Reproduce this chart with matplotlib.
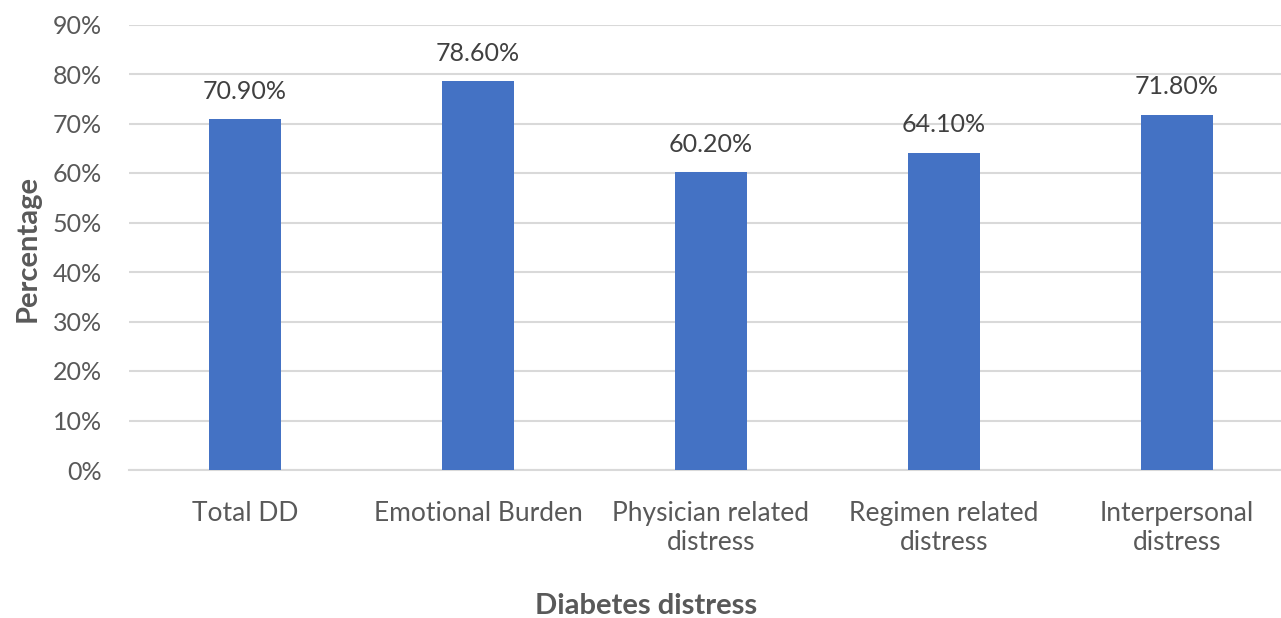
import numpy as np
import matplotlib.pyplot as plt
from matplotlib.ticker import PercentFormatter

# 数据
categories = ['Total DD', 'Emotional Burden', 'Physician related\ndistress',
              'Regimen related\ndistress', 'Interpersonal\ndistress']
percentages = [70.9, 78.6, 60.2, 64.1, 71.8]

bar_color = '#4472C4'
text_color = '#595959'
grid_color = '#D9D9D9'

plt.rcParams['font.family'] = ['Lato', 'DejaVu Sans']

fig = plt.figure(figsize=(12.81, 6.18), dpi=100)
fig.patch.set_facecolor('white')
ax = fig.add_axes([128.5 / 1281, 1 - 470 / 618, 1 - 128.5 / 1281, (470 - 24.5) / 618])

x = np.arange(len(categories))
bars = ax.bar(x, percentages, width=0.313, color=bar_color, zorder=3)

# 数值标签
for xi, v in zip(x, percentages):
    ax.text(xi, v + 3.3, f'{v:.2f}%', ha='center', va='bottom',
            fontsize=18, color='#404040')

ax.set_ylim(0, 90)
ax.set_yticks(np.arange(0, 91, 10))
ax.yaxis.set_major_formatter(PercentFormatter(decimals=0))
ax.set_xlim(-0.5, -0.5 + (1281 - 128.5) / 233)
ax.set_xticks(x)
ax.set_xticklabels(categories, linespacing=1.2, fontsize=19)

ax.grid(axis='y', color=grid_color, linewidth=1.5, zorder=0)
for s in ['top', 'right', 'left']:
    ax.spines[s].set_visible(False)
ax.spines['bottom'].set_color(grid_color)
ax.spines['bottom'].set_linewidth(1.5)
ax.tick_params(axis='both', length=0, colors=text_color)
ax.tick_params(axis='y', labelsize=18, pad=19)
ax.tick_params(axis='x', pad=22)

fig.text(28 / 1281, 1 - 248 / 618, 'Percentage', rotation=90, ha='center', va='center',
         fontsize=21, fontweight='bold', color=text_color)
fig.text(646 / 1281, 1 - 606 / 618, 'Diabetes distress', ha='center', va='center',
         fontsize=21, fontweight='bold', color=text_color)

fig.savefig('out.png', dpi=100)
